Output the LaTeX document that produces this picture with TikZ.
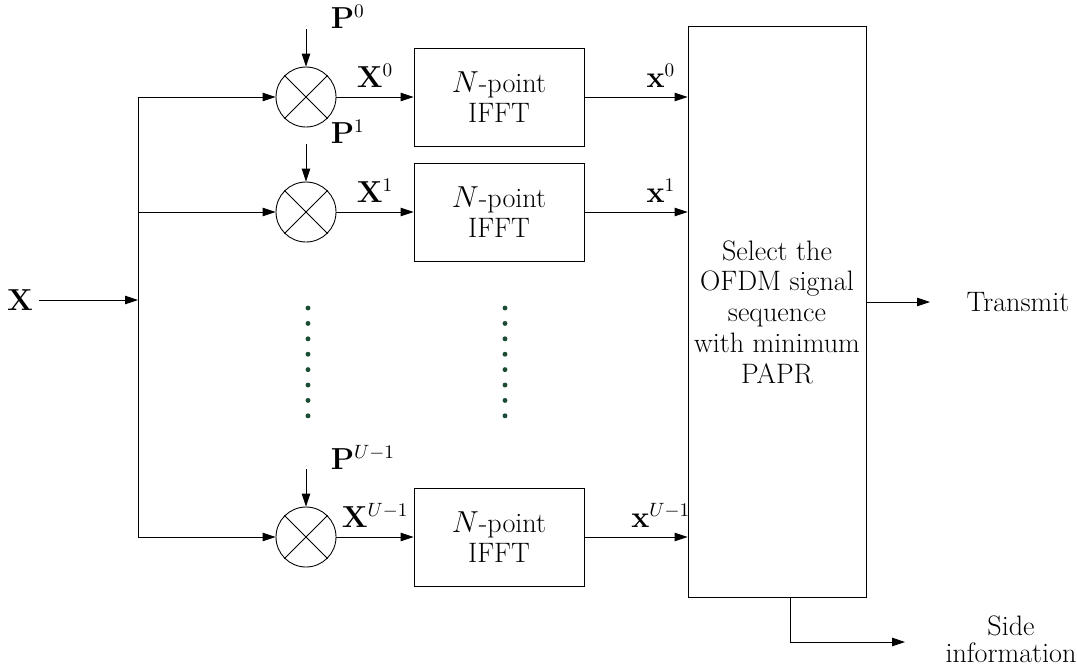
\documentclass[tikz,border=0pt]{standalone}
\usepackage{amsmath}
\usepackage{tikz}
\usetikzlibrary{arrows.meta,positioning}
\definecolor{dotgreen}{RGB}{26,77,51}

\begin{document}
\begin{tikzpicture}[x=0.02cm,y=-0.02cm,font=\fontsize{16}{17.5}\selectfont,line width=0.5pt,
    sig/.style={-{Triangle[length=2.6mm,width=1.7mm]}},
    mixer/.style={draw,circle,minimum size=1.2cm,inner sep=0pt},
    fftbox/.style={draw,rectangle,minimum width=3.4cm,minimum height=1.96cm,align=center},
    selbox/.style={draw,rectangle,minimum width=3.56cm,minimum height=11.42cm,align=center}]
    \useasboundingbox (0,0) rectangle (1077,670);
    \path
        (20,300)   node (X) {$\mathbf{X}$}
        (138,300)  coordinate (split)
        (306,97)   node [mixer] (mul0) {}
        (306,212)  node [mixer] (mul1) {}
        (306,537)  node [mixer] (mulU) {}
        (499,97)   node [fftbox] (ifft0) {$N$-point\\IFFT}
        (499,212)  node [fftbox] (ifft1) {$N$-point\\IFFT}
        (499,537)  node [fftbox] (ifftU) {$N$-point\\IFFT}
        (777,312)  node [selbox] (sel) {Select the\\OFDM signal\\sequence\\with minimum\\PAPR}
        (930,302)  coordinate (txend)
        (1018,302) node (tx) {Transmit}
        (790,598)  coordinate (tap)
        (905,642)  coordinate (sideend)
        (1011,639) node [align=center] (side) {Side\\[-2pt]information}
        ;
    \draw [sig] (X) -- (split);
    \draw (mul0 -| split) -- (mulU -| split);
    \foreach \i/\s in {0/0,1/1,U/U-1}{
        \coordinate [above=1.36cm of mul\i.center] (p\i);
        \draw [sig] (p\i) -- (mul\i);
        \node [anchor=west] (plab\i) at ([xshift=0.37cm,yshift=0.24cm]p\i) {$\mathbf{P}^{\s}$};
        \draw [sig] (mul\i -| split) -- (mul\i);
        \draw (mul\i.45) -- (mul\i.225) (mul\i.135) -- (mul\i.-45);
        \draw [sig] (mul\i) -- node [above=2pt] {$\mathbf{X}^{\s}$} (ifft\i);
        \draw [sig] (ifft\i) -- node [above=2pt,pos=.74] {$\mathbf{x}^{\s}$} (ifft\i -| sel.west);
    }
    \draw [sig] (sel.east |- tx) -- (txend);
    \draw [sig] (tap) |- (sideend);
    % vertical dots
    \foreach \k in {0,...,7}{
        \fill [dotgreen] (308,{308+15.4*\k}) circle (1.4pt);
        \fill [dotgreen] (505,{308+15.4*\k}) circle (1.4pt);
    }
\end{tikzpicture}
\end{document}
